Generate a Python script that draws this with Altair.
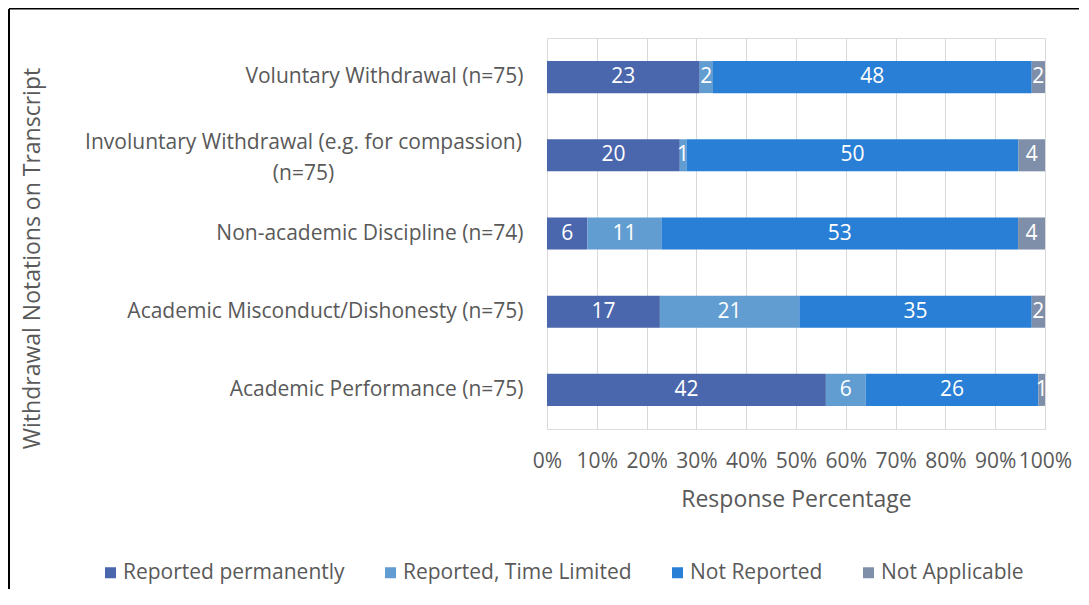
import altair as alt
import pandas as pd

categories = [
    "Voluntary Withdrawal (n=75)",
    "Involuntary Withdrawal (e.g. for compassion) (n=75)",
    "Non-academic Discipline (n=74)",
    "Academic Misconduct/Dishonesty (n=75)",
    "Academic Performance (n=75)",
]
series = ["Reported permanently", "Reported, Time Limited", "Not Reported", "Not Applicable"]
colors = ["#4A66AC", "#629DD1", "#297FD5", "#7F8FA9"]

reported_permanently = [23, 20, 6, 17, 42]
reported_time_limited = [2, 1, 11, 21, 6]
not_reported = [48, 50, 53, 35, 26]
not_applicable = [2, 4, 4, 2, 1]

rows = []
for s_i, (s, vals) in enumerate(zip(series, [reported_permanently, reported_time_limited, not_reported, not_applicable])):
    for c, v in zip(categories, vals):
        rows.append({"category": c, "series": s, "order": s_i, "value": v})
df = pd.DataFrame(rows)

FONT = "Open Sans"
GREY = "#595959"
W, H = 498, 391
PL, PT = 539, 30
LFS = 21   # label font size
TFS = 23   # title font size

two_line = categories[1]
test = "datum.value == '" + two_line + "'"
label_expr = (
    test + " ? ['Involuntary Withdrawal (e.g. for compassion)', '(n=75)'] : datum.value"
)

base = alt.Chart(df).transform_stack(
    stack="value",
    groupby=["category"],
    as_=["x0", "x1"],
    offset="normalize",
    sort=[alt.SortField("order", order="ascending")],
)

yenc = alt.Y(
    "category:N",
    sort=categories,
    scale=alt.Scale(paddingInner=0.59, paddingOuter=0.295),
    axis=alt.Axis(
        title="Withdrawal Notations on Transcript",
        labelExpr=label_expr,
        labelFont=FONT, labelFontSize=LFS, labelColor=GREY,
        labelLineHeight=31, labelLimit=700,
        labelPadding={"condition": {"test": test, "value": 244}, "value": 24},
        labelAlign={"condition": {"test": test, "value": "center"}, "value": "right"},
        labelOffset={"condition": {"test": test, "value": -12}, "value": 0},
        ticks=False, domain=True, domainColor="#D9D9D9",
        titleFont=FONT, titleFontSize=TFS, titleFontWeight="normal", titleColor=GREY,
        titleX=-515, titleY=220, titleAngle=270, titleBaseline="middle", titleAlign="center",
        grid=False,
    ),
)

bars = base.mark_bar().encode(
    x=alt.X(
        "x0:Q",
        scale=alt.Scale(domain=[0, 1], nice=False),
        axis=alt.Axis(
            title="Response Percentage",
            format=".0%", values=[i / 10 for i in range(11)],
            labelFont=FONT, labelFontSize=LFS, labelColor=GREY, labelPadding=21,
            labelOverlap=False, labelFlush=False,
            ticks=False, domain=False,
            grid=True, gridColor="#D9D9D9", gridWidth=1,
            titleFont=FONT, titleFontSize=TFS, titleFontWeight="normal", titleColor=GREY,
            titlePadding=17,
        ),
    ),
    x2="x1:Q",
    y=yenc,
    color=alt.Color(
        "series:N",
        sort=series,
        scale=alt.Scale(domain=series, range=colors),
        legend=alt.Legend(
            title=None, orient="none", direction="horizontal", columns=4,
            legendX=-447, legendY=524,
            symbolType="square", symbolSize=121, symbolStrokeWidth=0, symbolOpacity=1,
            labelFont=FONT, labelFontSize=LFS, labelColor=GREY, labelOffset=2,
            columnPadding=35, labelLimit=400,
        ),
    ),
    order=alt.Order("order:Q"),
)

text = base.transform_calculate(mid="(datum.x0 + datum.x1) / 2").mark_text(
    font=FONT, fontSize=LFS, color="white", baseline="middle", align="center"
).encode(
    x=alt.X("mid:Q"),
    y=alt.Y("category:N", sort=categories),
    text=alt.Text("value:Q"),
)

frame_left = alt.Chart(pd.DataFrame({"k": [0]})).mark_rule(color="black", strokeWidth=2).encode(
    x=alt.value(-PL + 1), y=alt.value(-PT + 1), y2=alt.value(H + 200)
)
frame_top = alt.Chart(pd.DataFrame({"k": [0]})).mark_rule(color="black", strokeWidth=2).encode(
    x=alt.value(-PL + 1), x2=alt.value(W + 60), y=alt.value(-PT + 0.5)
)

chart = alt.layer(bars, text, frame_left, frame_top).properties(
    width=W, height=H,
    autosize=alt.AutoSizeParams(type="none"),
    padding={"left": PL, "top": PT, "right": 34, "bottom": 160},
).configure_view(stroke=None).configure(background="white")

chart.save("out.html", embed_options={"renderer": "svg", "actions": False})
